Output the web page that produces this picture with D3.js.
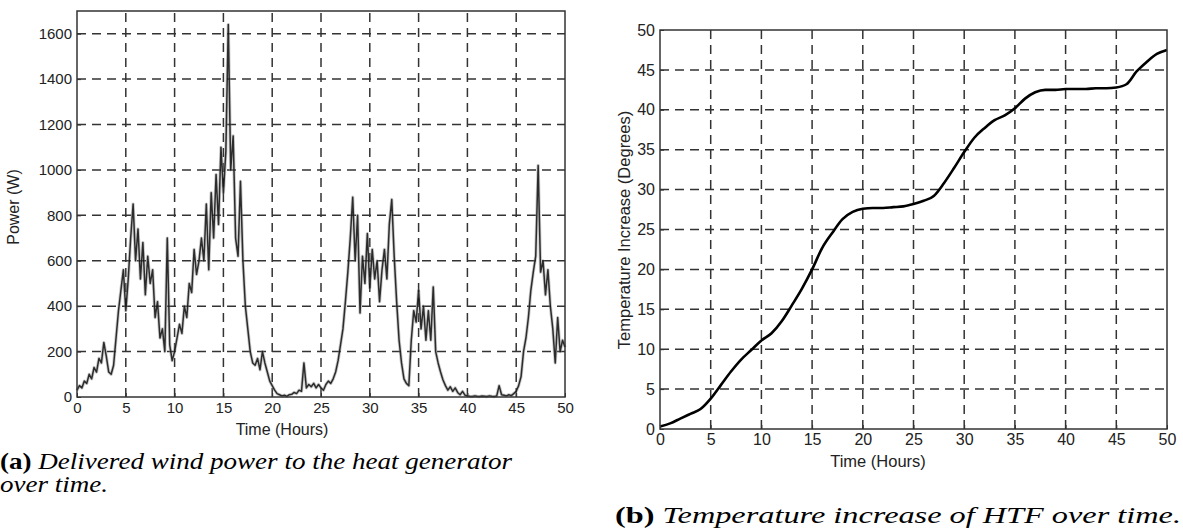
<!DOCTYPE html>
<html>
<head>
  <meta charset="utf-8">
  <script type="text/javascript" src="https://cdn.jsdelivr.net/npm/d3@7/dist/d3.min.js"></script>
  <title>Wind power and HTF temperature</title>
  <style>
    body { margin: 0; background: #fff; }
    svg { display: block; }
    .tick text { font-family: "Liberation Sans", Arial, sans-serif; fill: #222; }
    .caption { font-family: "Liberation Serif", "DejaVu Serif", serif; fill: #000; }
  </style>
</head>
<body>
<svg xmlns="http://www.w3.org/2000/svg" width="1183" height="529"></svg>

<script type="text/javascript">

  // (a) delivered wind power, read every 0.25 h from the figure
  var powerStep = 0.25;
  var powerValues = [
    30, 50, 40, 70,      60, 100, 80, 130,     110, 170, 150, 240,   180, 110, 100, 140,
    260, 380, 470, 560,  380, 520, 700, 850,   600, 740, 520, 680,   450, 620, 500, 560,
    350, 420, 260, 300,  200, 700, 230, 160,   200, 260, 320, 280,   400, 350, 500, 460,
    650, 540, 600, 700,  600, 850, 560, 900,   700, 980, 760, 1100,  900, 1080, 1640, 1000,
    1150, 700, 620, 950, 600, 400, 300, 200,   150, 140, 170, 120,   200, 150, 110, 70,
    50, 30, 15, 10,      5, 8, 3, 10,          12, 20, 15, 30,       25, 150, 40, 55,
    45, 60, 40, 55,      40, 30, 55, 70,       60, 80, 110, 160,     230, 300, 420, 550,
    700, 880, 600, 800,  370, 620, 500, 720,   480, 650, 520, 600,   420, 560, 650, 520,
    760, 870, 620, 420,  250, 150, 80, 60,     50, 250, 380, 330,    470, 300, 400, 250,
    380, 250, 485, 200,  150, 110, 75, 50,     30, 45, 25, 40,       20, 10, 25, 8,
    5, 3, 2, 5,          3, 2, 4, 3,           2, 5, 3, 2,           4, 50, 10, 8,
    5, 10, 6, 15,        25, 50, 90, 200,      260, 350, 470, 550,   620, 1020, 550, 600,
    450, 560, 400, 300,  150, 350, 200, 250,   220
  ];

  // (b) temperature increase of the HTF, hourly
  var tempHours = d3.range(0, 51);
  var tempValues = [
    0.3, 0.7, 1.3, 1.9, 2.5, 3.8, 5.5, 7.2, 8.7, 9.9,
    11.1, 12.0, 13.5, 15.5, 17.6, 20.0, 22.7, 24.6, 26.3, 27.2,
    27.6, 27.7, 27.7, 27.8, 27.9, 28.2, 28.6, 29.2, 30.8, 32.7,
    34.7, 36.5, 37.7, 38.7, 39.3, 40.2, 41.4, 42.2, 42.5, 42.5,
    42.6, 42.6, 42.6, 42.7, 42.7, 42.8, 43.2, 44.8, 46.0, 47.0, 47.5
  ];

  var timeTicks = [0, 5, 10, 15, 20, 25, 30, 35, 40, 45, 50];
  var powerTicks = [0, 200, 400, 600, 800, 1000, 1200, 1400, 1600];
  var tempTicks = [0, 5, 10, 15, 20, 25, 30, 35, 40, 45, 50];

  var svg = d3.select("svg");

  function drawPanel(p)
  {
    var g = svg.append("g");
    var x = p.x, y = p.y;
    var x0 = x.range()[0], x1 = x.range()[1];
    var y0 = y.range()[0], y1 = y.range()[1];

    // dashed grid
    g.selectAll("line.vgrid").data(p.xTicks.filter(function(d) { return d > x.domain()[0] && d < x.domain()[1]; }))
      .enter().append("line")
      .attr("x1", function(d) { return x(d); }).attr("x2", function(d) { return x(d); })
      .attr("y1", y0).attr("y2", y1)
      .attr("stroke", "#333").attr("stroke-width", 1.5)
      .attr("stroke-dasharray", "9,6");

    g.selectAll("line.hgrid").data(p.yTicks.filter(function(d) { return d > y.domain()[0] && d < y.domain()[1]; }))
      .enter().append("line")
      .attr("y1", function(d) { return y(d); }).attr("y2", function(d) { return y(d); })
      .attr("x1", x0).attr("x2", x1)
      .attr("stroke", "#333").attr("stroke-width", 1.5)
      .attr("stroke-dasharray", "9,6");

    var line = d3.line()
      .x(function(d) { return x(d[0]); })
      .y(function(d) { return y(d[1]); })
      .curve(p.curve);

    // soft halo under the noisy trace, like the blurred original
    if (p.halo)
    {
      g.append("path")
        .datum(p.data)
        .attr("fill", "none")
        .attr("stroke", "#888")
        .attr("stroke-width", 3.2)
        .attr("stroke-opacity", 0.45)
        .attr("stroke-linejoin", "round")
        .attr("d", line);
    }

    g.append("path")
      .datum(p.data)
      .attr("fill", "none")
      .attr("stroke", p.stroke)
      .attr("stroke-width", p.strokeWidth)
      .attr("stroke-opacity", p.opacity)
      .attr("stroke-linejoin", "round")
      .attr("d", line);

    // axes (inward ticks, MATLAB style)
    var xa = g.append("g").attr("transform", "translate(0," + y0 + ")")
      .call(d3.axisBottom(x).tickValues(p.xTicks).tickSize(-4).tickPadding(5).tickFormat(d3.format("d")));
    var ya = g.append("g").attr("transform", "translate(" + x0 + ",0)")
      .call(d3.axisLeft(y).tickValues(p.yTicks).tickSize(-4).tickPadding(5).tickFormat(d3.format("d")));
    [xa, ya].forEach(function(a) {
      a.select(".domain").remove();
      a.selectAll(".tick line").attr("stroke", "#333");
      a.selectAll(".tick text").style("font-size", p.fontSize + "px");
    });

    // frame
    g.append("rect")
      .attr("x", x0).attr("y", y1)
      .attr("width", x1 - x0).attr("height", y0 - y1)
      .attr("fill", "none").attr("stroke", "#333").attr("stroke-width", 1.5);

    g.append("text")
      .attr("x", p.xLabel[0]).attr("y", p.xLabel[1])
      .attr("text-anchor", "middle")
      .style("font-family", "Liberation Sans, Arial, sans-serif")
      .style("font-size", p.labelSize + "px").attr("fill", "#222")
      .text("Time (Hours)");

    g.append("text")
      .attr("transform", "translate(" + p.yLabel[0] + "," + p.yLabel[1] + ") rotate(-90)")
      .attr("text-anchor", "middle")
      .style("font-family", "Liberation Sans, Arial, sans-serif")
      .style("font-size", p.labelSize + "px").attr("fill", "#222")
      .text(p.yTitle);
  }

  drawPanel({
    x: d3.scaleLinear().domain([0, 50]).range([77, 565]),
    y: d3.scaleLinear().domain([0, 1700]).range([397, 11]),
    xTicks: timeTicks, yTicks: powerTicks,
    data: powerValues.map(function(v, i) { return [i * powerStep, v]; }),
    stroke: "#111", strokeWidth: 1.5, opacity: 0.85, curve: d3.curveLinear, halo: true,
    fontSize: 15, labelSize: 16,
    xLabel: [282, 435], yLabel: [19, 207], yTitle: "Power (W)"
  });

  drawPanel({
    x: d3.scaleLinear().domain([0, 50]).range([660, 1167]),
    y: d3.scaleLinear().domain([0, 50]).range([429, 30]),
    xTicks: timeTicks, yTicks: tempTicks,
    data: tempHours.map(function(h, i) { return [h, tempValues[i]]; }),
    stroke: "#000", strokeWidth: 2.6, opacity: 1, curve: d3.curveMonotoneX, halo: false,
    fontSize: 16, labelSize: 16.5,
    xLabel: [878, 467], yLabel: [630, 230], yTitle: "Temperature Increase (Degrees)"
  });

  // captions, fitted to the widths they take in the figure
  function caption(x, y, bold, italic, width)
  {
    var t = svg.append("text").attr("class", "caption")
      .attr("x", x).attr("y", y).style("font-size", "23px")
      .attr("textLength", width).attr("lengthAdjust", "spacingAndGlyphs");
    if (bold) t.append("tspan").style("font-weight", "bold").text(bold + " ");
    t.append("tspan").style("font-style", "italic").text(italic);
    return t;
  }

  caption(0, 469, "(a)", "Delivered wind power to the heat generator", 512);
  caption(0, 492, null, "over time.", 108);
  caption(615, 523, "(b)", "Temperature increase of HTF over time.", 566);

</script>
</body>
</html>
